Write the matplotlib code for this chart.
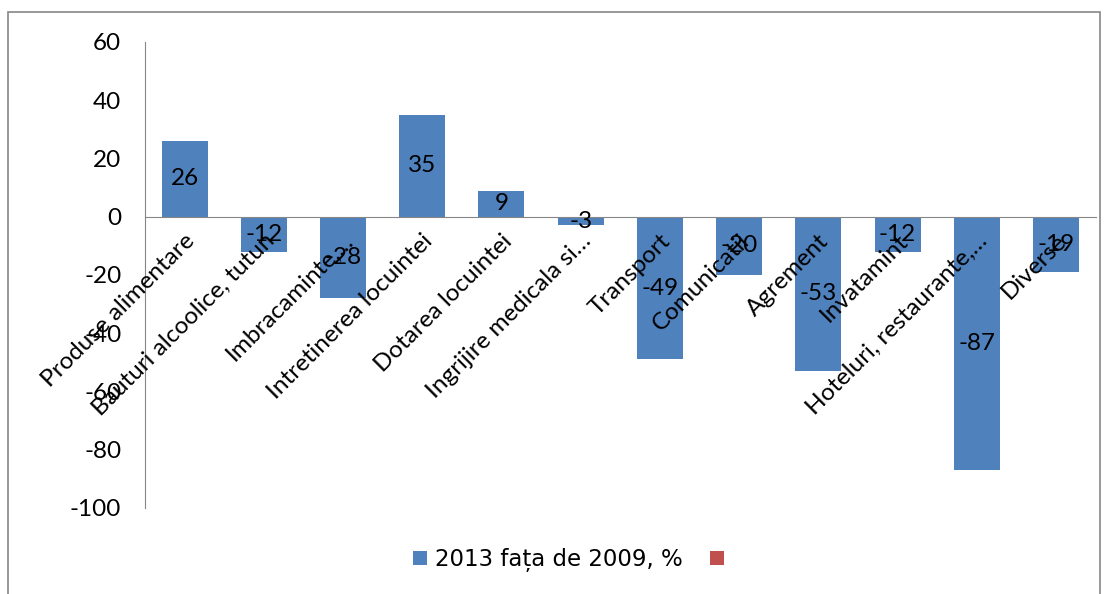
import matplotlib
matplotlib.use('Agg')

import matplotlib.pyplot as plt
from matplotlib.patches import Rectangle, Patch
from matplotlib.transforms import ScaledTranslation

# data
CATEGORIES = [
    "Produse alimentare",
    "Bauturi alcoolice, tutun",
    "Imbracaminte,…",
    "Intretinerea locuintei",
    "Dotarea locuintei",
    "Ingrijire medicala si…",
    "Transport",
    "Comunicatii",
    "Agrement",
    "Invatamint",
    "Hoteluri, restaurante,…",
    "Diverse",
]
VALUES = [26, -12, -28, 35, 9, -3, -49, -20, -53, -12, -87, -19]
SERIES_LABEL = "2013 fața de 2009, %"
Y_TICKS = [-100, -80, -60, -40, -20, 0, 20, 40, 60]

BLUE = "#4F81BD"
RED = "#C0504D"
GRID_GRAY = "#868686"
LABEL_FONT = "Lato"
FS = 17.5

fig = plt.figure(figsize=(11.1, 5.94), dpi=100)
ax = fig.add_axes([0.1306, 0.1448, 0.8564, 0.7845])

x = list(range(len(CATEGORIES)))
ax.bar(x, VALUES, width=0.58, color=BLUE, zorder=2)

for xi, v in zip(x, VALUES):
    ax.text(xi, v / 2, str(v), ha="center", va="center",
            fontsize=FS, family=LABEL_FONT, color="black", zorder=4)

ax.set_xlim(-0.5, len(CATEGORIES) - 0.5)
ax.set_ylim(-100, 60)
ax.set_yticks(Y_TICKS)
ax.set_yticklabels([str(t) for t in Y_TICKS], fontsize=FS, family=LABEL_FONT)
ax.tick_params(axis="y", length=0, pad=17)

ax.set_axisbelow(False)
ax.spines["top"].set_visible(False)
ax.spines["right"].set_visible(False)
ax.spines["left"].set_color(GRID_GRAY)
ax.spines["bottom"].set_color(GRID_GRAY)
ax.spines["bottom"].set_position(("data", 0))
ax.spines["bottom"].set_zorder(3)

ax.set_xticks(x)
ax.set_xticklabels(CATEGORIES, rotation=45, ha="right", va="center",
                   rotation_mode="anchor", fontsize=FS, family=LABEL_FONT)
ax.tick_params(axis="x", length=0, pad=15)
# nudge the rotated labels a little to the right, like Excel does
shift = ScaledTranslation(5 / 72, 0, fig.dpi_scale_trans)
for lbl in ax.get_xticklabels():
    lbl.set_transform(lbl.get_transform() + shift)

# legend with an empty second series
handles = [Patch(facecolor=BLUE, label=SERIES_LABEL),
           Patch(facecolor=RED, label=" ")]
fig.legend(handles=handles, loc="center", bbox_to_anchor=(0.519, 0.057),
           ncol=2, frameon=False, handlelength=0.6, handleheight=0.6,
           handletextpad=0.35, columnspacing=1.2,
           prop={"family": "DejaVu Sans", "size": 16.5})

# outer chart border
fig.patches.append(Rectangle((0.0072, -0.01), 0.9838, 0.99, transform=fig.transFigure,
                             fill=False, edgecolor=GRID_GRAY, linewidth=1.2))

plt.savefig("out.png", dpi=100)
